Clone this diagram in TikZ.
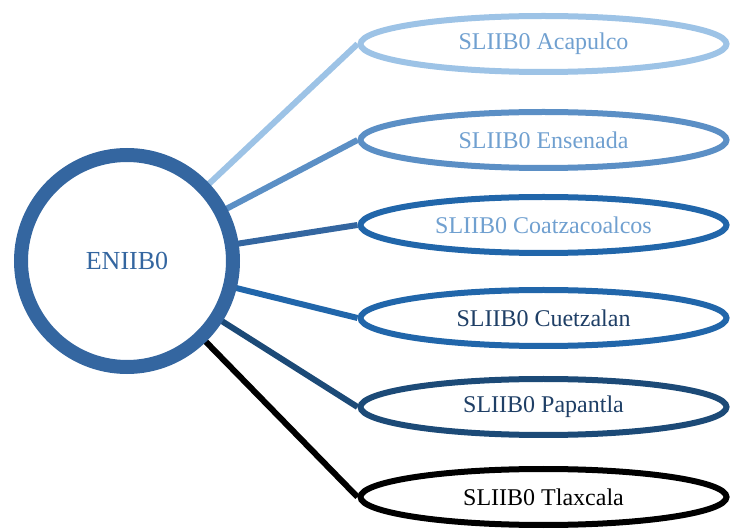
\documentclass[tikz,border=0pt]{standalone}
\usepackage{fontspec}
\setmainfont{Liberation Serif}
\usetikzlibrary{shapes.geometric,backgrounds}

\definecolor{ringblue}{RGB}{52,102,160}
\definecolor{paleblue}{RGB}{157,195,230}
\definecolor{midblue}{RGB}{91,143,197}
\definecolor{deepblue}{RGB}{33,102,170}
\definecolor{navyblue}{RGB}{28,74,119}
\definecolor{softtext}{RGB}{112,160,208}
\definecolor{darktext}{RGB}{31,63,102}

\tikzset{
	hub/.style={circle, draw=ringblue, line width=14pt, fill=white, minimum size=212pt, inner sep=0pt, text=ringblue, font=\fontsize{26}{30}\selectfont},
	site/.style={ellipse, line width=6pt, fill=white, minimum width=366pt, minimum height=56pt, inner sep=0pt, font=\fontsize{24}{28}\selectfont},
	link/.style={line width=6pt}
}

\begin{document}
\begin{tikzpicture}[x=1pt,y=-1pt]
\useasboundingbox (0,0) rectangle (737,529);

\node[hub] (E) at (127,261) {ENIIB0};

\node[site, draw=paleblue, text=softtext] (A) at (543.5,44) {SLIIB0 Acapulco};
\node[site, draw=midblue, text=softtext] (B) at (543.5,140) {SLIIB0 Ensenada};
\node[site, draw=deepblue, text=softtext] (C) at (543.5,225) {SLIIB0 Coatzacoalcos};
\node[site, draw=deepblue, text=darktext] (D) at (543.5,318) {SLIIB0 Cuetzalan};
\node[site, draw=navyblue, text=darktext] (P) at (543.5,407) {SLIIB0 Papantla};
\node[site, draw=black, text=black] (T) at (543.5,497) {SLIIB0 Tlaxcala};

\begin{scope}[on background layer]
\draw[link, paleblue] (E.center) -- (A.west);
\draw[link, midblue] (E.center) -- (B.west);
\draw[link, ringblue] (E.center) -- (C.west);
\draw[link, deepblue] (E.center) -- (D.west);
\draw[link, navyblue] (E.center) -- (P.west);
\draw[link, black] (E.center) -- (T.west);
\end{scope}
\end{tikzpicture}
\end{document}
